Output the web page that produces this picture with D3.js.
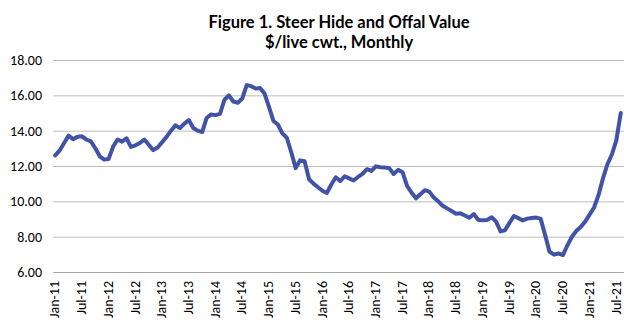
<!DOCTYPE html>
<html><head><meta charset="utf-8">
<script src="https://cdn.jsdelivr.net/npm/d3@7"></script>
<style>body{margin:0;background:#fff}svg{display:block}</style>
</head><body>
<script>
// ---- data ----
const titleLines = ["Figure 1. Steer Hide and Offal Value", "$/live cwt., Monthly"];
const firstMonth = [2011, 0];   // Jan-11
const lastMonth = [2021, 7];    // Aug-21
const hideOffalValue = [
  12.6, 12.88, 13.3, 13.72, 13.52, 13.65, 13.68, 13.5, 13.4, 13.0, 12.55, 12.36,
  12.4, 13.1, 13.5, 13.38, 13.57, 13.08, 13.17, 13.3, 13.5, 13.2, 12.9, 13.05,
  13.35, 13.65, 14.0, 14.3, 14.15, 14.4, 14.6, 14.15, 14.0, 13.92, 14.72, 14.92,
  14.88, 14.95, 15.75, 16.0, 15.65, 15.58, 15.82, 16.58, 16.52, 16.38, 16.42, 16.1,
  15.35, 14.55, 14.35, 13.85, 13.6, 12.78, 11.88, 12.32, 12.27, 11.25, 11.0, 10.8,
  10.6, 10.47, 10.95, 11.36, 11.15, 11.42, 11.3, 11.18, 11.38, 11.55, 11.82, 11.72,
  11.98, 11.93, 11.92, 11.88, 11.55, 11.78, 11.65, 10.88, 10.5, 10.17, 10.4, 10.63,
  10.55, 10.22, 10.0, 9.75, 9.6, 9.45, 9.3, 9.32, 9.2, 9.07, 9.28, 8.95,
  8.93, 8.95, 9.1, 8.85, 8.3, 8.36, 8.78, 9.17, 9.05, 8.92, 9.02, 9.06,
  9.08, 9.02, 8.1, 7.15, 6.98, 7.05, 6.96, 7.5, 7.98, 8.32, 8.55, 8.85,
  9.25, 9.65, 10.35, 11.3, 12.1, 12.65, 13.45, 15.0
];
const yTicks = [6, 8, 10, 12, 14, 16, 18];
const xTickLabels = ["Jan-11","Jul-11","Jan-12","Jul-12","Jan-13","Jul-13","Jan-14","Jul-14",
  "Jan-15","Jul-15","Jan-16","Jul-16","Jan-17","Jul-17","Jan-18","Jul-18","Jan-19","Jul-19",
  "Jan-20","Jul-20","Jan-21","Jul-21"];

// ---- chart ----
const W = 624, H = 327;
const fmt = d3.timeFormat("%b-%y");
const months = d3.timeMonth.range(new Date(firstMonth[0], firstMonth[1], 1),
                                  new Date(lastMonth[0], lastMonth[1] + 1, 1)).map(fmt);
const data = months.map((m, i) => ({m, v: hideOffalValue[i]}));

const svg = d3.select("body").append("svg").attr("width", W).attr("height", H);
const mLeft = 53, mRight = 623, mTop = 60, mBottom = 272;

const x = d3.scaleBand().domain(months).range([mLeft, mRight]);
const y = d3.scaleLinear().domain([6, 18]).range([mBottom, mTop]);

const fontBody = "Calibri, Carlito, 'Liberation Sans', Arial, sans-serif";

// y grid + labels
const yAxis = svg.append("g").attr("transform", `translate(${mLeft},0)`)
  .call(d3.axisLeft(y).tickValues(yTicks).tickFormat(d3.format(".2f"))
        .tickSize(-(mRight - mLeft + 1)).tickPadding(11));
yAxis.select(".domain").remove();
yAxis.selectAll(".tick line").attr("stroke", "#bcbcbc").attr("stroke-width", 1);
yAxis.selectAll(".tick text").attr("fill", "#000").style("font-family", fontBody).style("font-size", "14px");

// x axis
const xAxis = svg.append("g").attr("transform", `translate(0,${mBottom})`)
  .call(d3.axisBottom(x).tickValues(xTickLabels).tickSize(0).tickSizeOuter(0));
xAxis.select(".domain").attr("stroke", "#a6a6a6");
xAxis.selectAll(".tick text")
  .attr("transform", "rotate(-90)")
  .attr("x", -9).attr("y", 0).attr("dy", "0.3em")
  .attr("text-anchor", "end").attr("fill", "#000")
  .style("font-family", fontBody).style("font-size", "14px");

// line
const line = d3.line().x(d => x(d.m) + x.bandwidth() / 2).y(d => y(d.v)).curve(d3.curveLinear);
svg.append("path").datum(data).attr("d", line)
  .attr("fill", "none").attr("stroke", "#4053a6").attr("stroke-width", 4)
  .attr("stroke-linejoin", "round").attr("stroke-linecap", "round");

// title
const title = svg.append("text").attr("text-anchor", "middle")
  .style("font-family", "Lato, 'Open Sans', sans-serif").style("font-weight", "bold").style("font-size", "16.5px");
title.selectAll("tspan").data(titleLines).join("tspan")
  .attr("x", 339).attr("y", (d, i) => 28 + i * 20).text(d => d);
</script>
</body></html>
